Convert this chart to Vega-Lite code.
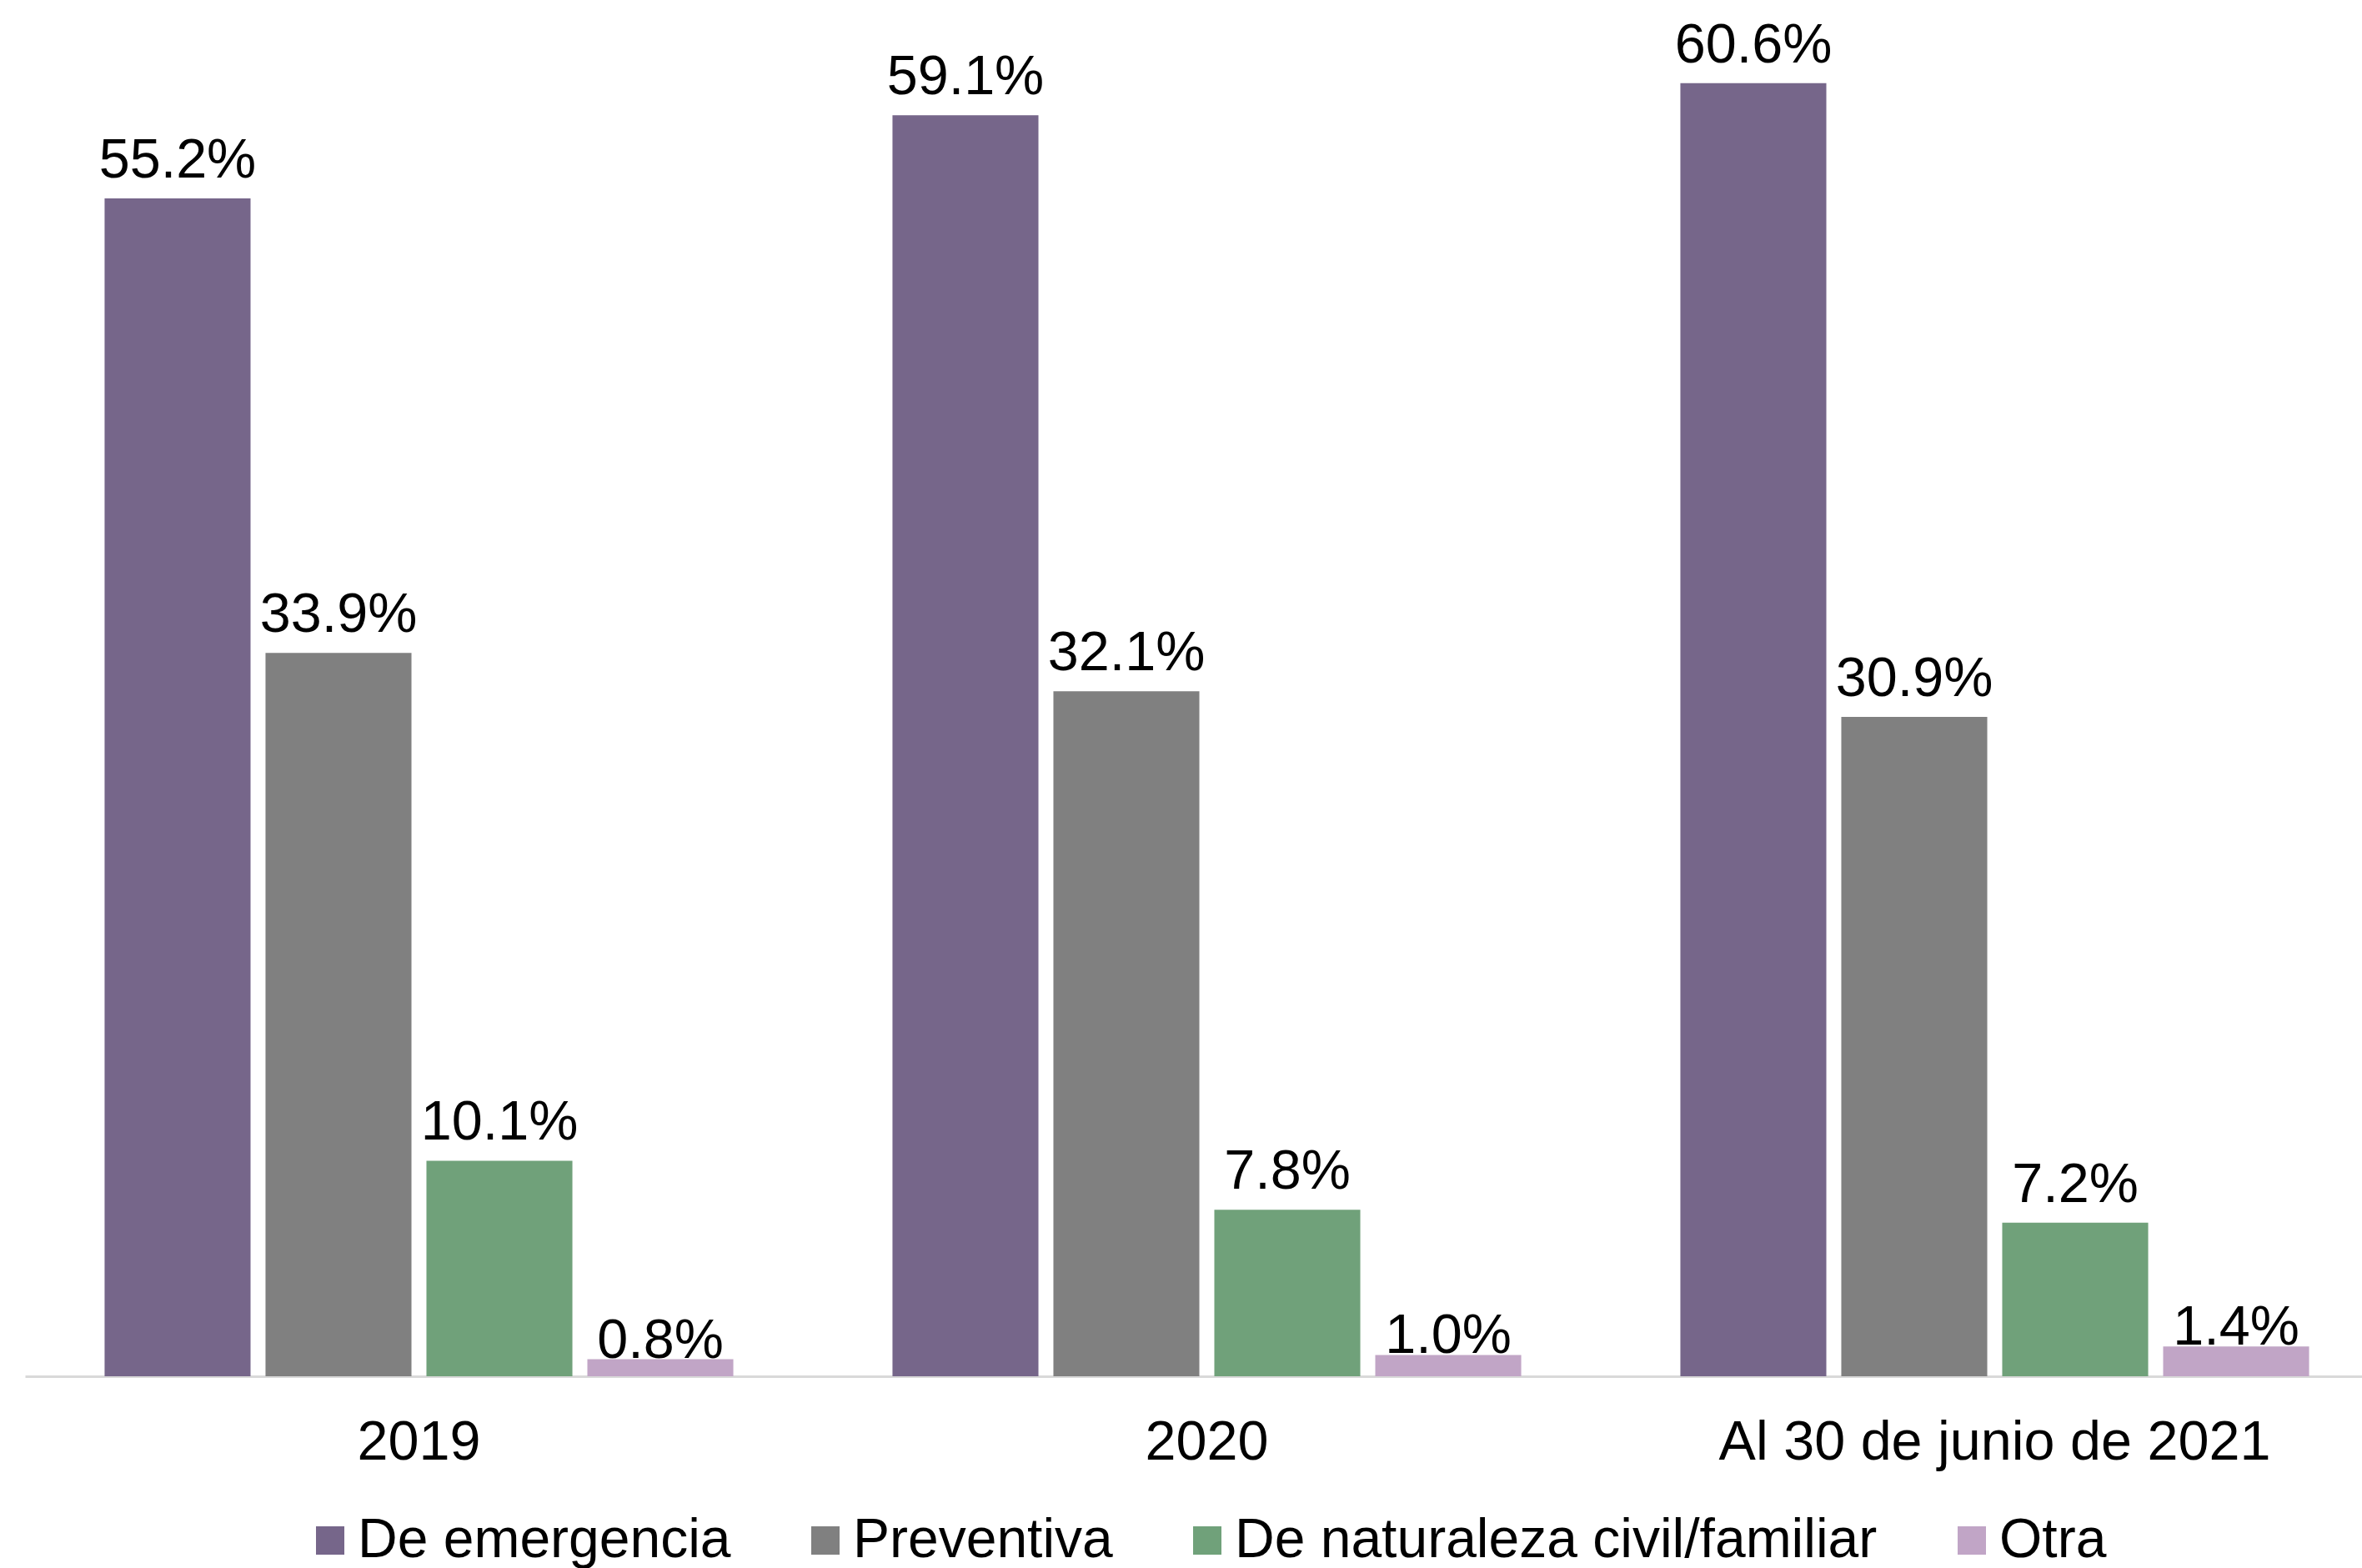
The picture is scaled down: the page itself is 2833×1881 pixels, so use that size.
{
  "$schema": "https://vega.github.io/schema/vega-lite/v6.json",
  "width": 2803,
  "height": 1651,
  "autosize": {"type": "none"},
  "padding": {"left": 30, "top": 0, "right": 0, "bottom": 230},
  "background": "white",
  "config": {
    "view": {"stroke": null},
    "font": "Liberation Sans"
  },
  "data": {
    "values": [
      {"periodo": "2019", "tipo": "De emergencia", "valor": 0.552},
      {"periodo": "2019", "tipo": "Preventiva", "valor": 0.339},
      {"periodo": "2019", "tipo": "De naturaleza civil/familiar", "valor": 0.101},
      {"periodo": "2019", "tipo": "Otra", "valor": 0.008},
      {"periodo": "2020", "tipo": "De emergencia", "valor": 0.591},
      {"periodo": "2020", "tipo": "Preventiva", "valor": 0.321},
      {"periodo": "2020", "tipo": "De naturaleza civil/familiar", "valor": 0.078},
      {"periodo": "2020", "tipo": "Otra", "valor": 0.010},
      {"periodo": "Al 30 de junio de 2021", "tipo": "De emergencia", "valor": 0.606},
      {"periodo": "Al 30 de junio de 2021", "tipo": "Preventiva", "valor": 0.309},
      {"periodo": "Al 30 de junio de 2021", "tipo": "De naturaleza civil/familiar", "valor": 0.072},
      {"periodo": "Al 30 de junio de 2021", "tipo": "Otra", "valor": 0.014}
    ]
  },
  "encoding": {
    "x": {
      "field": "periodo",
      "type": "nominal",
      "sort": ["2019", "2020", "Al 30 de junio de 2021"],
      "scale": {"range": [0, 2835], "paddingInner": 0, "paddingOuter": 0},
      "axis": {
        "title": null,
        "labelAngle": 0,
        "labelFontSize": 66.5,
        "labelColor": "#000000",
        "labelFont": "Liberation Sans",
        "labelPadding": 46,
        "labelLimit": 0,
        "ticks": false,
        "domainColor": "#d9d9d9",
        "domainWidth": 3,
        "grid": false
      }
    },
    "xOffset": {
      "field": "tipo",
      "type": "nominal",
      "sort": ["De emergencia", "Preventiva", "De naturaleza civil/familiar", "Otra"],
      "scale": {"paddingInner": 0.093, "paddingOuter": 0.4945}
    },
    "y": {
      "field": "valor",
      "type": "quantitative",
      "scale": {"domain": [0, 0.645], "nice": false},
      "axis": null
    }
  },
  "layer": [
    {
      "mark": {"type": "bar"},
      "encoding": {
        "color": {
          "field": "tipo",
          "type": "nominal",
          "sort": ["De emergencia", "Preventiva", "De naturaleza civil/familiar", "Otra"],
          "scale": {
            "domain": ["De emergencia", "Preventiva", "De naturaleza civil/familiar", "Otra"],
            "range": ["#76668a", "#808080", "#70a17a", "#c1a5c6"]
          },
          "legend": {
            "title": null,
            "orient": "none",
            "direction": "horizontal",
            "legendX": 333,
            "legendY": 1815,
            "symbolType": "square",
            "symbolSize": 1156,
            "symbolStrokeWidth": 0,
            "symbolOpacity": 1,
            "labelFontSize": 66,
            "labelFont": "Liberation Sans",
            "labelColor": "#000000",
            "labelOffset": 0,
            "columnPadding": 80,
            "labelLimit": 1200
          }
        }
      }
    },
    {
      "transform": [{"filter": "datum.tipo !== 'Otra'"}],
      "mark": {
        "type": "text",
        "baseline": "alphabetic",
        "align": "center",
        "dy": -25,
        "fontSize": 66.5,
        "font": "Liberation Sans",
        "color": "#000000"
      },
      "encoding": {
        "text": {"field": "valor", "type": "quantitative", "format": ".1%"}
      }
    },
    {
      "transform": [{"filter": "datum.tipo === 'Otra'"}],
      "mark": {
        "type": "text",
        "baseline": "alphabetic",
        "align": "center",
        "dy": -2,
        "fontSize": 66.5,
        "font": "Liberation Sans",
        "color": "#000000"
      },
      "encoding": {
        "text": {"field": "valor", "type": "quantitative", "format": ".1%"}
      }
    }
  ]
}
